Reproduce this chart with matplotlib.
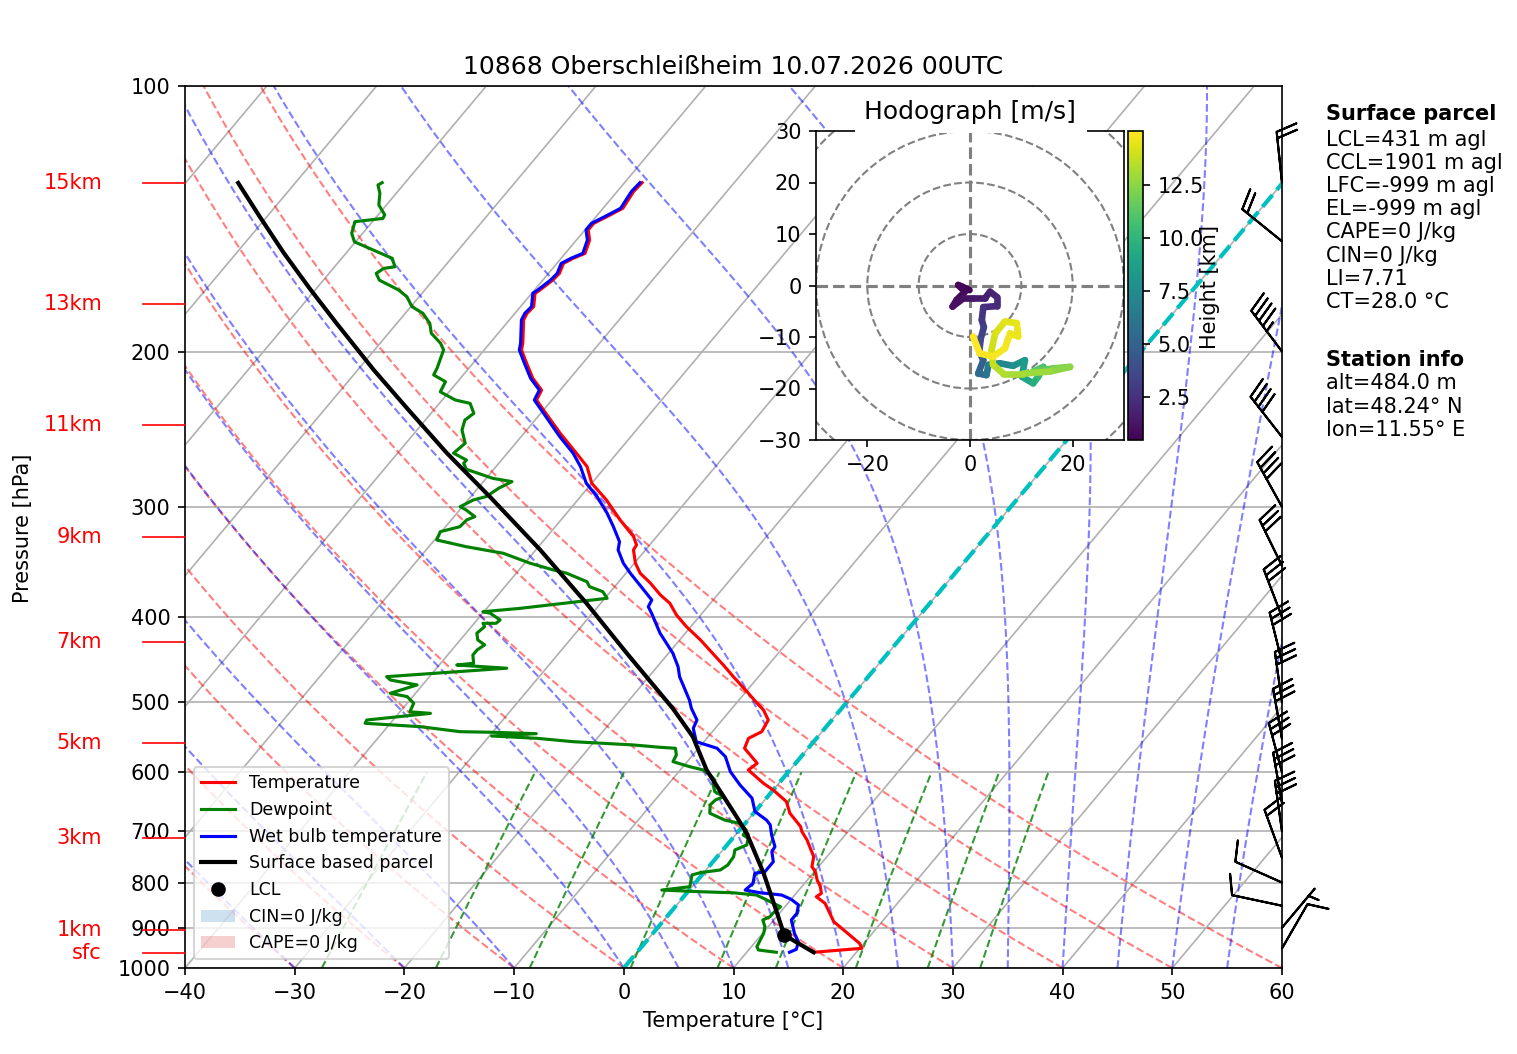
import numpy as np
import matplotlib
matplotlib.use("Agg")
import matplotlib.pyplot as plt
import matplotlib.transforms as mtransforms
from matplotlib.collections import LineCollection
from matplotlib.patches import Patch, Circle, Rectangle
from matplotlib.lines import Line2D
from matplotlib.colors import Normalize
from matplotlib.ticker import NullLocator

# ---------------------------------------------------------------- data
title = "10868 Oberschleißheim 10.07.2026 00UTC"

temp_p = [959.8, 949.9, 937.6, 886.1, 867.0, 844.7, 830.2, 822.9, 808.8, 794.8, 777.8, 767.6,
          747.9, 715.7, 700.4, 691.3, 667.6, 647.7, 628.3, 617.4, 596.3, 586.0, 563.5, 549.0,
          539.6, 523.4, 509.9, 501.0, 486.1, 467.4, 453.4, 436.0, 424.7, 410.2, 397.9, 385.9,
          377.6, 366.2, 356.8, 347.6, 335.7, 331.4, 324.3, 310.5, 294.6, 282.1, 270.1, 260.8,
          247.6, 233.0, 227.0, 221.2, 214.5, 206.3, 199.2, 195.7, 184.2, 181.0, 177.9, 171.8,
          170.3, 166.0, 163.1, 158.9, 156.8, 154.8, 149.5, 145.6, 143.1, 140.6, 137.6, 131.7, 128.7]
temp_t = [16.1, 20.2, 19.6, 15.6, 14.6, 13.4, 12.1, 12.3, 11.7, 10.9, 10.1, 9.4,
          8.8, 6.9, 5.8, 5.3, 3.3, 2.1, 0.0, -1.4, -3.8, -3.5, -5.8, -6.2,
          -5.5, -5.8, -7.0, -8.1, -9.9, -12.3, -14.1, -16.5, -18.1, -20.4, -22.2, -23.7,
          -25.2, -27.0, -28.7, -29.9, -31.1, -31.2, -32.1, -34.6, -37.4, -40.0, -41.7, -43.7,
          -46.7, -50.0, -51.4, -51.7, -53.4, -55.1, -56.6, -57.0, -58.7, -58.9, -58.8, -59.7,
          -59.5, -59.1, -59.0, -59.4, -58.9, -58.2, -58.8, -59.7, -59.7, -59.0, -58.2, -58.5, -58.4]

wet_p = [959.8, 952.4, 933.6, 913.4, 882.2, 867.0, 848.2, 835.8, 826.5, 821.7, 815.9, 801.7,
         780.9, 777.8, 757.7, 738.1, 728.6, 706.6, 688.2, 679.7, 664.8, 641.9, 620.2, 599.0,
         576.0, 563.5, 553.9, 534.9, 523.4, 507.7, 497.0, 467.4, 455.4, 439.7, 417.3, 396.1,
         389.4, 382.6, 372.7, 356.8, 347.6, 335.7, 328.6, 316.0, 305.1, 292.1, 282.1, 270.1,
         260.8, 249.7, 233.0, 227.0, 221.2, 214.5, 206.3, 199.2, 195.7, 184.2, 181.0, 177.9,
         171.8, 170.3, 166.0, 163.1, 158.9, 156.8, 154.8, 149.5, 145.6, 143.1, 140.6, 137.6,
         131.7, 128.7]
wet_t = [13.9, 14.3, 13.9, 12.9, 11.6, 11.6, 11.1, 10.0, 8.8, 6.7, 5.1, 5.3,
         4.7, 5.5, 5.5, 4.6, 4.5, 3.3, 2.4, 1.7, 0.0, -1.3, -3.4, -5.3,
         -6.9, -8.3, -10.7, -12.0, -12.3, -13.7, -14.5, -17.2, -18.1, -19.6, -22.3, -24.6,
         -25.4, -25.6, -27.1, -29.6, -31.0, -32.5, -33.0, -34.7, -36.3, -38.5, -40.5, -42.3,
         -44.0, -46.5, -50.2, -51.6, -51.9, -53.6, -55.3, -56.8, -57.2, -58.9, -59.1, -59.0,
         -59.9, -59.7, -59.3, -59.2, -59.6, -59.1, -58.4, -59.0, -59.9, -59.9, -59.2, -58.4,
         -58.7, -58.6]

dew_p = [959.8, 954.1, 945.9, 929.5, 913.4, 897.7, 882.2, 874.6, 867.0, 852.1, 844.7, 833.7,
         826.5, 821.7, 819.4, 815.9, 808.8, 784.3, 779.6, 774.2, 764.3, 747.9, 734.8, 725.3,
         712.6, 706.6, 697.4, 685.2, 679.7, 667.6, 653.3, 644.9, 639.3, 631.0, 617.4, 612.0,
         604.1, 596.3, 591.2, 583.5, 573.5, 563.5, 562.0, 558.6, 553.9, 549.0, 545.7, 542.4,
         540.4, 539.6, 532.6, 527.9, 523.4, 514.4, 512.3, 501.0, 492.4, 488.1, 477.6, 471.5,
         467.4, 457.2, 453.4, 451.3, 441.7, 436.0, 430.2, 424.7, 417.3, 410.2, 406.6, 406.6,
         403.1, 396.1, 394.5, 391.1, 380.9, 374.4, 369.5, 364.8, 356.8, 353.7, 347.6, 338.7,
         332.9, 327.1, 320.1, 316.0, 310.5, 307.8, 302.5, 299.9, 294.6, 292.1, 285.8, 280.9,
         278.5, 272.0, 267.8, 265.5, 260.8, 254.1, 245.5, 239.2, 235.0, 229.0, 227.0, 222.2,
         216.4, 212.6, 208.9, 199.2, 195.7, 190.7, 185.8, 181.0, 177.9, 173.4, 170.3, 166.0,
         163.1, 161.0, 160.3, 156.8, 153.4, 150.2, 146.9, 142.5, 141.3, 140.0, 136.4, 132.3,
         129.5, 128.7]
dew_t = [12.7, 10.9, 10.5, 10.3, 10.1, 9.7, 9.0, 9.4, 9.4, 9.6, 8.7, 7.4,
         6.5, 4.2, 1.1, -2.5, -0.2, -0.9, -0.3, 1.3, 1.6, 1.5, 1.1, 1.8,
         1.4, 0.7, 0.6, -0.6, -2.1, -4.0, -4.6, -4.5, -4.0, -5.2, -6.0, -6.1,
         -6.9, -7.9, -9.4, -11.3, -11.5, -12.1, -13.6, -16.2, -21.9, -25.5, -29.8, -25.9,
         -30.1, -33.0, -37.0, -42.3, -42.4, -37.1, -39.1, -39.4, -40.5, -42.3, -40.5, -43.3,
         -43.9, -33.6, -38.4, -37.0, -37.7, -37.7, -37.4, -38.4, -39.0, -38.8, -39.2, -38.0,
         -37.9, -39.3, -40.1, -37.0, -29.8, -30.7, -32.3, -32.9, -35.4, -36.9, -39.5, -42.7,
         -46.6, -49.8, -50.1, -48.7, -48.6, -48.1, -49.4, -50.2, -49.5, -48.6, -48.1, -47.4,
         -49.4, -52.5, -53.2, -53.2, -54.9, -54.6, -55.9, -56.4, -56.1, -57.2, -58.8, -60.8,
         -61.1, -62.7, -62.9, -63.7, -64.5, -66.1, -67.0, -68.4, -69.9, -71.1, -72.4, -74.9,
         -75.7, -75.4, -74.5, -75.4, -77.8, -80.1, -81.0, -81.6, -79.3, -79.4, -80.7, -81.5,
         -82.3, -82.1]

parcel_p = [959.8, 917.5, 867.0, 780.9, 703.5, 673.6, 596.3, 546.7, 507.7, 439.7, 385.9,
            335.7, 293.4, 260.8, 233.0, 210.0, 185.8, 170.0, 154.6, 140.0, 128.8]
parcel_t = [16.1, 12.1, 9.8, 5.5, 0.9, -1.3, -7.6, -11.4, -15.4, -23.8, -31.3,
            -39.6, -48.0, -55.5, -62.3, -68.5, -75.5, -80.5, -85.7, -90.9, -95.2]
lcl_p, lcl_t = 917.5, 12.1

height_labels = ['sfc', '1km', '3km', '5km', '7km', '9km', '11km', '13km', '15km']
height_p = [961.0, 905.6, 712.0, 555.7, 426.9, 324.5, 242.3, 176.7, 128.8]

barb_p = [950, 900, 850, 800, 750, 700, 650, 600, 550, 500, 450, 400, 350, 300, 250, 200, 150, 128.7]
barb_dir = [30, 40, 282, 294, 340, 352, 350, 345, 350, 352, 346, 339, 334, 331, 322, 323, 309, 354]
barb_kt = [10, 5, 10, 10, 20, 30, 30, 30, 30, 30, 30, 30, 30, 40, 40, 45, 20, 20]

hodo_u = [-0.1, -1.6, -2.3, -1.0, -2.6, -3.4, -1.3, 0.6, 2.9, 3.9, 5.2, 5.2, 2.6, 2.3, 2.7,
          2.1, 1.8, 2.6, 1.6, 3.2, 3.6, 5.8, 8.4, 10.7, 10.1, 12.3, 13.3, 14.3, 12.3, 16.2,
          19.5, 15.6, 10.4, 6.5, 4.5, 4.2, 4.9, 6.8, 9.1, 9.4, 7.8, 6.8, 4.5, 1.9, 0.6]
hodo_v = [-0.9, -0.2, 0.1, -1.2, -2.8, -4.1, -2.5, -2.5, -2.5, -1.2, -2.2, -4.0, -4.2, -6.7, -8.1,
          -10.3, -12.8, -14.5, -17.1, -17.4, -15.4, -15.1, -15.6, -14.5, -17.7, -19.0, -17.7, -15.8,
          -16.7, -16.1, -15.8, -16.7, -17.1, -17.1, -15.4, -12.5, -9.3, -7.0, -7.3, -9.9, -9.3,
          -12.2, -13.8, -13.2, -9.9]
hodo_h = [0.48, 0.6, 0.7, 0.8, 0.9, 1.0, 1.1, 1.3, 1.6, 1.8, 2.0, 2.2, 2.5, 2.8, 3.1,
          3.5, 4.0, 4.6, 5.2, 5.8, 6.4, 7.0, 7.6, 8.2, 8.8, 9.4, 10.0, 10.6, 11.2, 11.8,
          12.3, 12.7, 13.0, 13.3, 13.6, 13.9, 14.1, 14.3, 14.5, 14.6, 14.7, 14.8, 14.9, 14.95, 15.05]

parcel_title = "Surface parcel"
parcel_info = ["LCL=431 m agl", "CCL=1901 m agl", "LFC=-999 m agl", "EL=-999 m agl",
               "CAPE=0 J/kg", "CIN=0 J/kg", "LI=7.71", "CT=28.0 °C"]
station_title = "Station info"
station_info = ["alt=484.0 m", "lat=48.24° N", "lon=11.55° E"]

y_levels = [100, 200, 300, 400, 500, 600, 700, 800, 900, 1000]

# ---------------------------------------------------------------- figure
W, H, DPI = 1517, 1054, 150
fig = plt.figure(figsize=(W / DPI, H / DPI), dpi=DPI)


def fig_rect(l, t, r, b):
    return [l / W, 1 - b / H, (r - l) / W, (b - t) / H]


AXL, AXT, AXR, AXB = 185, 86, 1282, 968
ax = fig.add_axes(fig_rect(AXL, AXT, AXR, AXB))
TMIN, TMAX, PBOT, PTOP = -40.0, 60.0, 1000.0, 100.0
ax.set_yscale('log')
ax.set_xlim(TMIN, TMAX)
ax.set_ylim(PBOT, PTOP)

ROTATION = 40.0
SKEW = (np.tan(np.radians(ROTATION)) * (AXB - AXT) / np.log10(PBOT / PTOP)
        / ((AXR - AXL) / (TMAX - TMIN)))


def skx(t, p):
    return np.asarray(t, float) + SKEW * np.log10(PBOT / np.asarray(p, float))


pp = np.linspace(PBOT, PTOP, 300)

# isotherms and isobars
for t0 in np.arange(-170, 61, 10):
    ax.plot(skx([t0, t0], [PBOT, PTOP]), [PBOT, PTOP], color='#b0b0b0', lw=0.8, zorder=1)
for lev in y_levels:
    ax.axhline(lev, color='#b0b0b0', lw=0.8, zorder=1)

# dry adiabats
kappa = 0.2857
for t0 in np.arange(-40, 61, 10):
    t = (t0 + 273.15) * (pp / 1000.0) ** kappa - 273.15
    ax.plot(skx(t, pp), pp, color='r', ls='--', lw=1, alpha=0.5, zorder=1.2)


# moist adiabats
def moist_adiabats(t0c, p):
    Rd, Lv, Cp, eps = 287.04749, 2.50084e6, 1004.6662, 0.621957

    def dtdp(pr, T):
        es = 6.112 * np.exp(17.67 * (T - 273.15) / (T - 29.65))
        rs = eps * es / (pr - es)
        return (Rd * T + Lv * rs) / (Cp + Lv * Lv * rs * eps / (Rd * T * T)) / pr

    T = np.empty((len(t0c), len(p)))
    T[:, 0] = np.asarray(t0c, float) + 273.15
    for i in range(1, len(p)):
        h = p[i] - p[i - 1]
        pr = p[i - 1]
        Ti = T[:, i - 1]
        k1 = dtdp(pr, Ti)
        k2 = dtdp(pr + h / 2, Ti + h / 2 * k1)
        k3 = dtdp(pr + h / 2, Ti + h / 2 * k2)
        k4 = dtdp(pr + h, Ti + h * k3)
        T[:, i] = Ti + h / 6 * (k1 + 2 * k2 + 2 * k3 + k4)
    return T - 273.15


moist_t0 = np.concatenate((np.arange(-40, 0, 10), np.arange(0, 61, 5)))
for tm in moist_adiabats(moist_t0, pp):
    ax.plot(skx(tm, pp), pp, color='b', ls='--', lw=1, alpha=0.5, zorder=1.2)

# mixing ratio lines
pm = np.linspace(1000, 600, 60)
for wi in [0.0004, 0.001, 0.002, 0.004, 0.007, 0.01, 0.016, 0.024, 0.032]:
    e = pm * wi / (0.621957 + wi)
    val = np.log(e / 6.112)
    td = 243.5 * val / (17.67 - val)
    ax.plot(skx(td, pm), pm, color='g', ls='--', lw=1, alpha=0.8, zorder=1.2)

# freezing level isotherm
ax.plot(skx([0, 0], [PBOT, PTOP]), [PBOT, PTOP], color='c', ls='--', lw=2, zorder=2)

# sounding
ax.plot(skx(temp_t, temp_p), temp_p, color='r', lw=1.5, zorder=3)
ax.plot(skx(dew_t, dew_p), dew_p, color='g', lw=1.5, zorder=3)
ax.plot(skx(wet_t, wet_p), wet_p, color='b', lw=1.5, zorder=3.1)
ax.plot(skx(parcel_t, parcel_p), parcel_p, color='k', lw=2, zorder=3.5)
ax.plot(skx([lcl_t], [lcl_p]), [lcl_p], 'ko', markersize=6, zorder=4)

# axes decoration
ax.set_xticks(np.arange(-40, 61, 10))
ax.set_yticks(y_levels)
ax.set_yticklabels([str(v) for v in y_levels])
ax.yaxis.set_minor_locator(NullLocator())
ax.set_xlabel('Temperature [°C]')
ax.set_title(title)
fig.text(23 / W, 1 - 528 / H, 'Pressure [hPa]', rotation=90, ha='center', va='center')

bt = mtransforms.blended_transform_factory(ax.transAxes, ax.transData)
for lab, p in zip(height_labels, height_p):
    ax.plot([-(AXL - 143) / (AXR - AXL), 0], [p, p], transform=bt, color='red', lw=0.8,
            clip_on=False, zorder=5)
    ax.text(-(AXL - 102) / (AXR - AXL), p, lab, transform=bt, color='red', ha='right',
            va='center')

# wind barbs
spd = np.asarray(barb_kt, float)
drad = np.radians(barb_dir)
bu = -spd * np.sin(drad)
bv = -spd * np.cos(drad)
ax.barbs(np.ones(len(barb_p)), barb_p, bu, bv, transform=bt, clip_on=False, length=7,
         zorder=6)

# legend
handles = [Line2D([], [], color='r', lw=1.5, label='Temperature'),
           Line2D([], [], color='g', lw=1.5, label='Dewpoint'),
           Line2D([], [], color='b', lw=1.5, label='Wet bulb temperature'),
           Line2D([], [], color='k', lw=2, label='Surface based parcel'),
           Line2D([], [], color='k', marker='o', ls='none', markersize=6, label='LCL'),
           Patch(facecolor='tab:blue', alpha=0.22, label='CIN=0 J/kg'),
           Patch(facecolor='tab:red', alpha=0.22, label='CAPE=0 J/kg')]
ax.legend(handles=handles, loc='lower left', fontsize='small')

# ---------------------------------------------------------------- hodograph
hax = fig.add_axes(fig_rect(816, 131, 1124, 440))
hax.set_xlim(-30, 30)
hax.set_ylim(-30, 30)
for r in (10, 20, 30, 40):
    hax.add_patch(Circle((0, 0), r, fill=False, ec='grey', ls='--', lw=1, zorder=1))
hax.axhline(0, color='grey', ls='--', lw=1.5, zorder=1)
hax.axvline(0, color='grey', ls='--', lw=1.5, zorder=1)
pts = np.column_stack([hodo_u, hodo_v])
segs = np.stack([pts[:-1], pts[1:]], axis=1)
hh = np.asarray(hodo_h, float)
norm = Normalize(hh.min(), hh.max())
lc = LineCollection(segs, cmap='viridis', norm=norm, linewidths=3.2, zorder=3,
                    capstyle='round', joinstyle='round')
lc.set_array(0.5 * (hh[:-1] + hh[1:]))
hax.add_collection(lc)
hax.set_xticks([-20, 0, 20])
hax.set_yticks(np.arange(-30, 31, 10))
hax.set_title('Hodograph [m/s]')
hax.add_patch(Rectangle((855 / W, 1 - 132.5 / H), (1087 - 855) / W, (132.5 - 87) / H,
                        transform=fig.transFigure, fc='white', ec='none', clip_on=False,
                        zorder=2.7))

cax = fig.add_axes(fig_rect(1128, 131, 1143, 440))
cb = fig.colorbar(lc, cax=cax)
cb.set_ticks([2.5, 5.0, 7.5, 10.0, 12.5])
cb.set_ticklabels(['2.5', '5.0', '7.5', '10.0', '12.5'])
fig.text(1210 / W, 1 - 287 / H, 'Height [km]', rotation=90, ha='center', va='center')

# ---------------------------------------------------------------- side text
x0 = 1326 / W
fig.text(x0, 1 - 114 / H, parcel_title, fontweight='bold', va='center')
for txt, y in zip(parcel_info, [139.5, 162.7, 185.8, 209.0, 232.0, 255.5, 279.0, 302.3]):
    fig.text(x0, 1 - y / H, txt, va='center')
fig.text(x0, 1 - 360 / H, station_title, fontweight='bold', va='center')
for txt, y in zip(station_info, [383.3, 406.7, 430.0]):
    fig.text(x0, 1 - y / H, txt, va='center')

fig.savefig('out.png', dpi=DPI)
